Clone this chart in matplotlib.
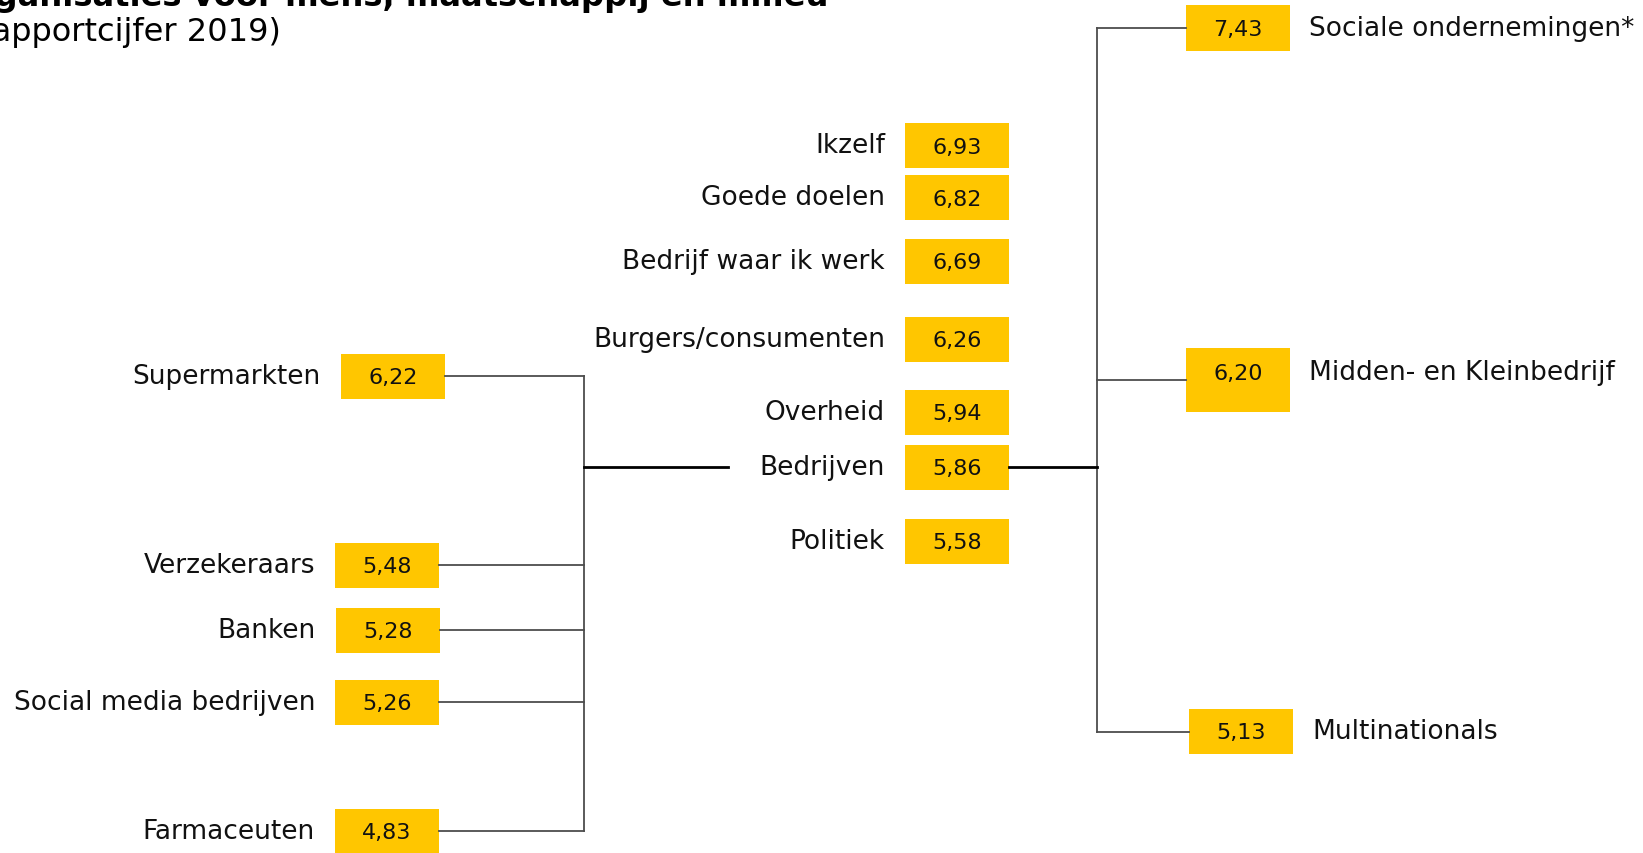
import matplotlib.pyplot as plt
from matplotlib.patches import Rectangle

# rapportcijfers 2019
center_labels = ['Ikzelf', 'Goede doelen', 'Bedrijf waar ik werk', 'Burgers/consumenten',
                 'Overheid', 'Bedrijven', 'Politiek']
center_values = [6.93, 6.82, 6.69, 6.26, 5.94, 5.86, 5.58]

left_labels = ['Supermarkten', 'Verzekeraars', 'Banken', 'Social media bedrijven', 'Farmaceuten']
left_values = [6.22, 5.48, 5.28, 5.26, 4.83]

right_labels = ['Sociale ondernemingen*', 'Midden- en Kleinbedrijf', 'Multinationals']
right_values = [7.43, 6.20, 5.13]

title1 = 'Bijdrage van organisaties voor mens, maatschappij en milieu'
title2 = '(rapportcijfer 2019)'

GOLD = '#FFC600'
W = 1643
H = 854

fig = plt.figure(figsize=(W / 100, H / 100), dpi=100)
ax = fig.add_axes([0, 0, 1, 1])
ax.set_xlim(0, W)
ax.set_ylim(H, 0)
ax.axis('off')


def fmt(v):
    return f'{v:.2f}'.replace('.', ',')


def box(x, top, v, h=45, ty=None):
    ax.add_patch(Rectangle((x, top), 104, h, facecolor=GOLD, edgecolor='none'))
    if ty is None:
        ty = top + h / 2
    ax.text(x + 52, ty + 1, fmt(v), ha='center', va='center', fontsize=16, color='#111111')


# middle column
c_top = [124, 176, 240, 318, 391, 446, 520]
for lab, v, t in zip(center_labels, center_values, c_top):
    box(905, t, v)
    ax.text(885, t + 22, lab, ha='right', va='center', fontsize=19, color='#111111')

# left column (bedrijven uitgesplitst)
l_x = [341, 335, 336, 335, 335]
l_top = [355, 544, 609, 681, 810]
for lab, v, x, t in zip(left_labels, left_values, l_x, l_top):
    box(x, t, v)
    ax.text(x - 20, t + 22, lab, ha='right', va='center', fontsize=19, color='#111111')
    ax.plot([x + 104, 584], [t + 22, t + 22], color='#4d4d4d', lw=1.3)
ax.plot([584, 584], [l_top[0] + 22, l_top[-1] + 22], color='#4d4d4d', lw=1.3)

# right column
r_x = [1186, 1186, 1189]
r_top = [6, 349, 710]
r_h = [46, 64, 45]
r_line = [29, 381, 733]
r_text = [None, 373, None]
for lab, v, x, t, h, yl, ty in zip(right_labels, right_values, r_x, r_top, r_h, r_line, r_text):
    box(x, t, v, h, ty)
    ly = (t + h / 2 if ty is None else ty)
    ax.text(x + 123, ly, lab, ha='left', va='center', fontsize=19, color='#111111')
    ax.plot([1097, x], [yl, yl], color='#4d4d4d', lw=1.3)
ax.plot([1097, 1097], [r_line[0], r_line[-1]], color='#4d4d4d', lw=1.3)

# verbindingen naar "Bedrijven"
ax.plot([584, 728], [468, 468], color='black', lw=2)
ax.plot([1009, 1097], [468, 468], color='black', lw=2)

# titel (valt deels buiten beeld)
ax.text(828, 6, title1, ha='right', va='baseline', fontsize=23.2, fontweight='bold', color='black')
ax.text(281, 41, title2, ha='right', va='baseline', fontsize=23, color='black')

fig.savefig('out.png', dpi=100)
